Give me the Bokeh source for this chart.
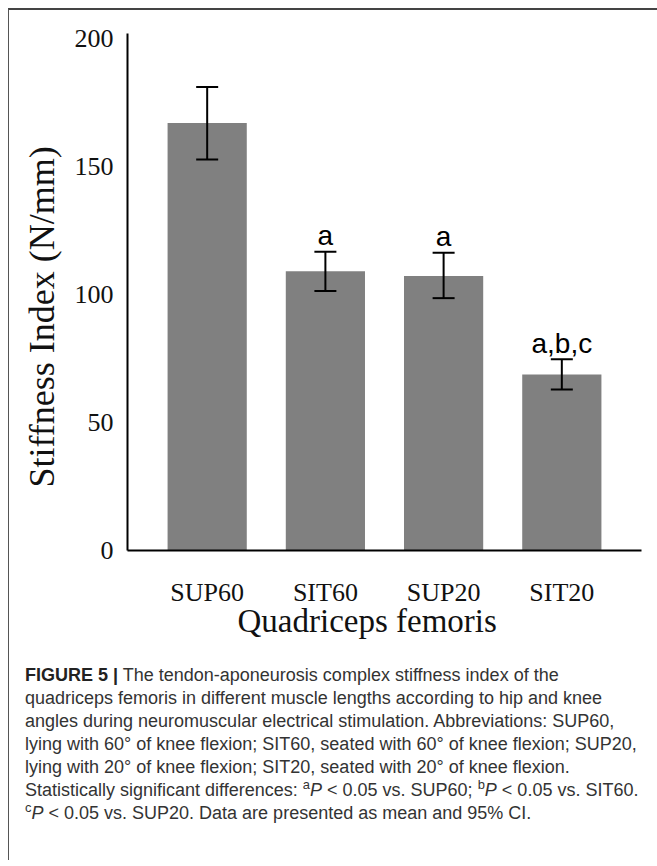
from bokeh.plotting import figure
from bokeh.models import (ColumnDataSource, FactorRange, Whisker, TeeHead, Title,
                          Div, FixedTicker)
from bokeh.layouts import column
from bokeh.core.properties import value
from bokeh.embed import file_html
from bokeh.resources import INLINE

# ---- data ----
categories = ["SUP60", "SIT60", "SUP20", "SIT20"]
means = [167.0, 109.1, 107.3, 68.8]
ci_lower = [152.8, 101.4, 98.6, 62.9]
ci_upper = [181.1, 116.7, 116.3, 74.7]
sig_labels = ["", "a", "a", "a,b,c"]
y_ticks = [0, 50, 100, 150, 200]

source = ColumnDataSource(data=dict(cat=categories, mean=means, lower=ci_lower,
                                    upper=ci_upper, lab=sig_labels))

W = 648
p = figure(x_range=FactorRange(factors=categories, range_padding=0.087),
           y_range=(0, 202), width=W, height=640,
           output_backend="svg", toolbar_location=None,
           min_border_left=118, min_border_right=16, min_border_top=23,
           min_border_bottom=100)

p.background_fill_color = "white"
p.border_fill_color = "white"
p.outline_line_color = None
p.grid.grid_line_color = None

p.vbar(x="cat", top="mean", width=0.67, source=source,
       fill_color="#808080", line_color=None)

wh = Whisker(base="cat", lower="lower", upper="upper", source=source,
             line_color="black", line_width=2, level="overlay",
             upper_head=TeeHead(size=22, line_color="black", line_width=2),
             lower_head=TeeHead(size=22, line_color="black", line_width=2))
p.add_layout(wh)

p.text(x="cat", y="upper", text="lab", source=source,
       text_align="center", text_baseline="alphabetic", y_offset=-16,
       text_font=value("Liberation Sans"), text_font_size="28px",
       text_color="black")

# y axis
yax = p.yaxis[0]
yax.ticker = FixedTicker(ticks=y_ticks)
yax.major_label_text_font = "Liberation Serif"
yax.major_label_text_font_size = "26px"
yax.major_label_text_color = "#111111"
yax.major_label_standoff = 8
yax.major_tick_line_color = None
yax.minor_tick_line_color = None
yax.axis_line_width = 2
yax.axis_line_color = "black"

yt = Title(text="Stiffness Index (N/mm)", align="left", offset=63,
           text_font="Liberation Serif", text_font_size="36px",
           text_font_style="normal", text_color="#111111", standoff=20)
p.add_layout(yt, "left")

# x axis
xax = p.xaxis[0]
xax.major_label_text_font = "Liberation Serif"
xax.major_label_text_font_size = "26px"
xax.major_label_text_color = "#111111"
xax.major_label_standoff = 21
xax.major_tick_line_color = None
xax.minor_tick_line_color = None
xax.axis_line_width = 2
xax.axis_line_color = "black"

xt = Title(text="Quadriceps femoris", align="left", offset=110,
           text_font="Liberation Serif", text_font_size="33px",
           text_font_style="normal", text_color="#111111", standoff=-18)
p.add_layout(xt, "below")

sup = '<sup style="font-size:0.72em; line-height:0">%s</sup>'
caption_html = (
    '<div style="font-family: \'Liberation Sans\', Arial, sans-serif; font-size: 18px; '
    'line-height: 23px; color: #333; white-space: nowrap; padding: 9px 0 0 11px;">'
    '<b style="color:#222">FIGURE 5 |</b> The tendon-aponeurosis complex stiffness index of the<br>'
    'quadriceps femoris in different muscle lengths according to hip and knee<br>'
    'angles during neuromuscular electrical stimulation. Abbreviations: SUP60,<br>'
    'lying with 60° of knee flexion; SIT60, seated with 60° of knee flexion; SUP20,<br>'
    'lying with 20° of knee flexion; SIT20, seated with 20° of knee flexion.<br>'
    'Statistically significant differences: '
    + sup % 'a' + '<i>P</i> &lt; 0.05 vs. SUP60; '
    + sup % 'b' + '<i>P</i> &lt; 0.05 vs. SIT60.<br>'
    + sup % 'c' + '<i>P</i> &lt; 0.05 vs. SUP20. '
    'Data are presented as mean and 95% CI.'
    '</div>'
)
caption = Div(text=caption_html, width=W, height=200)

layout = column(p, caption, spacing=0,
                styles={"border-top": "2px solid #444444",
                        "border-left": "1px solid #555555",
                        "background-color": "white",
                        "margin-left": "8px", "margin-top": "8px"})

open("out.html", "w").write(file_html(layout, INLINE))
